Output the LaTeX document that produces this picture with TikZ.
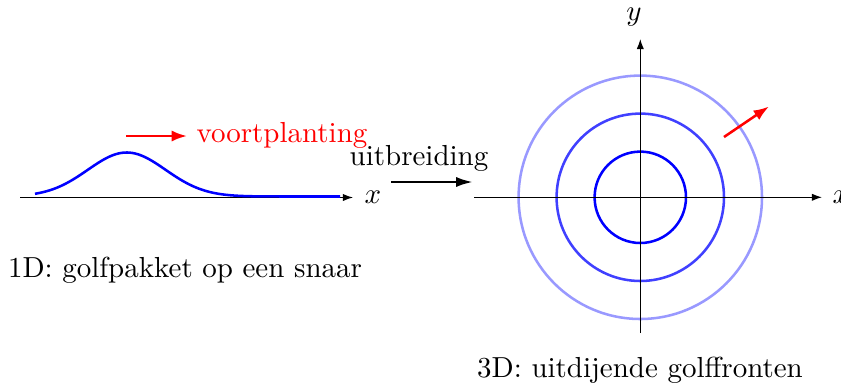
\documentclass[tikz,border=0pt]{standalone}
\usetikzlibrary{arrows.meta}
\begin{document}
\begin{tikzpicture}[x=0.0125cm,y=-0.0125cm,
  axis/.style={line width=0.4pt,-{Latex[length=3.6pt,width=2.6pt]}},
  redarrow/.style={red,line width=0.9pt,-{Latex[length=5.5pt,width=4pt]}},
  blackarrow/.style={black,line width=0.9pt,-{Latex[length=6pt,width=3.6pt]}},
  wave/.style={line width=0.9pt},
  lbl/.style={inner sep=0pt,scale=1.03}]
\useasboundingbox (0,0) rectangle (841,385);
% left panel
\coordinate (l0) at (20,197.5);
\coordinate (l1) at (353,197.5);
\draw[axis] (l0) -- (l1);
\node[lbl,anchor=west] (lx) at (364,197.5) {$x$};
\draw[wave,blue,domain=35:340,samples=120] plot (\x,{196.5-44*exp(-((\x-126.7)/55)^2)});
\coordinate (r0) at (126,136);
\coordinate (r1) at (187,136);
\draw[redarrow] (r0) -- (r1);
\node[lbl,anchor=west,red] (vp) at (196,135) {voortplanting};
\node[lbl] (cap1) at (185,270) {1D: golfpakket op een snaar};
% middle
\node[lbl] (ub) at (419,158) {uitbreiding};
\coordinate (m0) at (391,182);
\coordinate (m1) at (473,182);
\draw[blackarrow] (m0) -- (m1);
% right panel
\coordinate (O) at (640.3,197.3);
\coordinate (xa) at (474,197.3);
\coordinate (xb) at (822,197.3);
\coordinate (ya) at (640.3,333);
\coordinate (yb) at (640.3,39);
\draw[blue!40,wave] (O) circle[radius=121.7];
\draw[blue!75,wave] (O) circle[radius=83.7];
\draw[blue,wave] (O) circle[radius=45.7];
\draw[axis] (xa) -- (xb);
\draw[axis] (ya) -- (yb);
\node[lbl,anchor=west] (rx) at (832,197.3) {$x$};
\node[lbl] (ry) at (634,17) {$y$};
\coordinate (a0) at (724,137);
\coordinate (a1) at (769,106.5);
\draw[redarrow] (a0) -- (a1);
\node[lbl] (cap3) at (640,370) {3D: uitdijende golffronten};
\end{tikzpicture}
\end{document}
